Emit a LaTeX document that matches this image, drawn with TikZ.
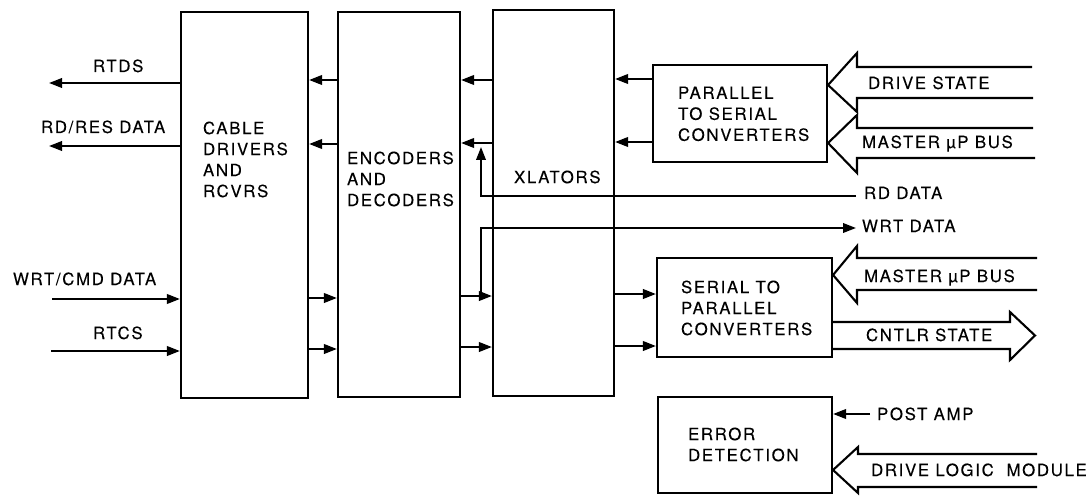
\documentclass[tikz,border=0pt]{standalone}
\usepackage{fontspec}
\setmainfont{TeX Gyre Heros}[LetterSpace=10,FakeBold=0.2]
\usetikzlibrary{arrows.meta}
\begin{document}
\begin{tikzpicture}[x=1pt,y=-1pt,line width=2.1pt,
  box/.style={draw,rectangle,inner sep=0pt,line width=2.1pt},
  arr/.style={-{Triangle[length=13pt,width=9.5pt]}},
  lbl/.style={inner sep=0pt,anchor=base west,font=\fontsize{16.8}{21}\selectfont},
  txt/.style={inner sep=0pt,anchor=north west,align=left,font=\fontsize{16.8}{21}\selectfont},
  bus/.style={line width=2.1pt,line join=miter}]
\useasboundingbox (0,0) rectangle (1089,497);

% boxes
\node[box,minimum width=127pt,minimum height=386pt] (cab) at (244.5,205) {};
\node[box,minimum width=122pt,minimum height=385pt] (enc) at (399,204.5) {};
\node[box,minimum width=121pt,minimum height=386pt] (xla) at (553.5,203) {};
\node[box,minimum width=174pt,minimum height=97pt] (p2s) at (740,113.5) {};
\node[box,minimum width=175pt,minimum height=99pt] (s2p) at (744.5,307.5) {};
\node[box,minimum width=174pt,minimum height=96pt] (err) at (745,445) {};

% box texts
\node[txt] (cabt) at (202,120.5) {CABLE\\DRIVERS\\AND\\RCVRS};
\node[txt] (enct) at (346,150.5) {ENCODERS\\AND\\DECODERS};
\node[txt] (xlat) at (513,169.5) {XLATORS};
\node[txt] (p2st) at (677,85.5) {PARALLEL\\TO SERIAL\\CONVERTERS};
\node[txt] (s2pt) at (680,279.5) {SERIAL TO\\PARALLEL\\CONVERTERS};
\node[txt] (errt) at (687,426.5) {ERROR\\DETECTION};

% signal labels
\node[lbl] (rtds) at (92,72) {RTDS};
\node[lbl] (rdres) at (40,133) {RD/RES DATA};
\node[lbl] (wrtcmd) at (12,285) {WRT/CMD DATA};
\node[lbl] (rtcs) at (92,339) {RTCS};
\node[lbl] (dstate) at (867,89) {DRIVE STATE};
\node[lbl] (mbus1) at (861,148) {MASTER µP BUS};
\node[lbl] (rddata) at (863,199) {RD DATA};
\node[lbl] (wrtdata) at (861,232) {WRT DATA};
\node[lbl] (mbus2) at (863,282) {MASTER µP BUS};
\node[lbl] (cstate) at (865,341) {CNTLR STATE};
\node[lbl] (postamp) at (876,420) {POST AMP};
\node[lbl] (dlm) at (870,476) {DRIVE LOGIC\ \ MODULE};

% free ends
\coordinate (rtdsE) at (49,83);
\coordinate (rdresE) at (49,146);
\coordinate (wcS) at (52,299);
\coordinate (rtcsS) at (51,351);
\coordinate (rdS) at (856,196);
\coordinate (rdC) at (481,196);
\coordinate (rdT) at (481,147);
\coordinate (wrtB) at (481,296);
\coordinate (wrtC) at (481,228);
\coordinate (wrtE) at (856,228);
\coordinate (paS) at (870,414);

% left side
\draw[arr] (cab.west |- 0,83) -- (rtdsE);
\draw[arr] (cab.west |- 0,146) -- (rdresE);
\draw[arr] (wcS) -- (cab.west |- 0,299);
\draw[arr] (rtcsS) -- (cab.west |- 0,351);

% between columns (top)
\draw[arr] (enc.west |- 0,80) -- (cab.east |- 0,80);
\draw[arr] (enc.west |- 0,144) -- (cab.east |- 0,144);
\draw[arr] (xla.west |- 0,80) -- (enc.east |- 0,80);
\draw[arr] (xla.west |- 0,143) -- (enc.east |- 0,143);
\draw[arr] (p2s.west |- 0,79) -- (xla.east |- 0,79);
\draw[arr] (p2s.west |- 0,142) -- (xla.east |- 0,142);

% between columns (bottom)
\draw[arr] (cab.east |- 0,298) -- (enc.west |- 0,298);
\draw[arr] (cab.east |- 0,349) -- (enc.west |- 0,349);
\draw[arr] (enc.east |- 0,296) -- (xla.west |- 0,296);
\draw[arr] (enc.east |- 0,347) -- (xla.west |- 0,347);
\draw[arr] (xla.east |- 0,294) -- (s2p.west |- 0,294);
\draw[arr] (xla.east |- 0,346) -- (s2p.west |- 0,346);

% RD DATA / WRT DATA
\draw[arr] (rdS) -- (rdC) -- (rdT);
\draw[arr] (wrtB) -- (wrtC) -- (wrtE);

% POST AMP
\draw[arr] (paS) -- (err.east |- 0,414);

% bus arrows
\draw[bus] (1032,67) -- (857,67) -- (857,53) -- (p2s.east |- 0,85) -- (857,112) -- (857,98) -- (1033,98);
\draw[bus] (1033,128) -- (857,128) -- (857,115) -- (p2s.east |- 0,143) -- (857,173) -- (857,158) -- (1035,158);
\draw[bus] (1037,258) -- (857,258) -- (857,246) -- (s2p.east |- 0,275) -- (857,303) -- (857,290) -- (1037,290);
\draw[bus] (s2p.east |- 0,322) -- (1010,322) -- (1010,312) -- (1035,335.5) -- (1010,360) -- (1010,349) -- (s2p.east |- 0,349);
\draw[bus] (1037,454) -- (858,454) -- (858,447) -- (err.east |- 0,470) -- (858,493) -- (858,487) -- (1037,487);
\end{tikzpicture}
\end{document}
